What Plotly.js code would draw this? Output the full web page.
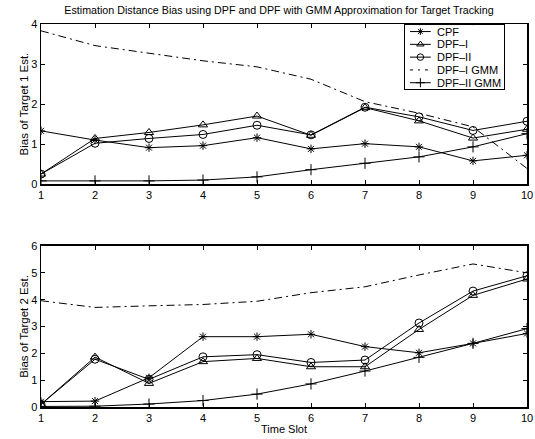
<!DOCTYPE html>
<html><head><meta charset="utf-8">
<script src="https://cdn.plot.ly/plotly-3.0.1.min.js"></script>
<style>html,body{margin:0;padding:0;background:#fff}#c{width:535px;height:439px}</style>
</head><body><div id="c"></div>
<script>
const timeSlots = [1,2,3,4,5,6,7,8,9,10];
const seriesNames = ['CPF','DPF\u2013I','DPF\u2013II','DPF\u2013I GMM','DPF\u2013II GMM'];
// Target 1
const t1_cpf    = [1.33,1.10,0.91,0.96,1.16,0.88,1.01,0.93,0.58,0.72];
const t1_dpf1   = [0.25,1.14,1.29,1.48,1.70,1.22,1.91,1.58,1.15,1.37];
const t1_dpf2   = [0.25,1.02,1.14,1.24,1.47,1.23,1.92,1.68,1.34,1.57];
const t1_dpf1g  = [3.83,3.46,3.27,3.08,2.93,2.62,2.06,1.77,1.43,0.39];
const t1_dpf2g  = [0.08,0.08,0.08,0.10,0.18,0.36,0.52,0.68,0.93,1.26];
// Target 2
const t2_cpf    = [0.20,0.22,1.09,2.62,2.62,2.71,2.25,2.02,2.37,2.74];
const t2_dpf1   = [0.10,1.86,0.88,1.69,1.81,1.50,1.50,2.89,4.16,4.77];
const t2_dpf2   = [0.10,1.78,1.03,1.87,1.95,1.66,1.75,3.13,4.32,4.89];
const t2_dpf1g  = [3.96,3.71,3.77,3.82,3.94,4.26,4.48,4.92,5.33,5.00];
const t2_dpf2g  = [0.02,0.03,0.11,0.24,0.48,0.86,1.34,1.85,2.37,2.92];

const styles = [
  {symbol:'asterisk-open', dash:'solid', size:7},
  {symbol:'triangle-up-open', dash:'solid', size:8},
  {symbol:'circle-open', dash:'solid', size:8},
  {symbol:'circle', dash:'8px,4px,2px,4px', size:0},
  {symbol:'cross-thin-open', dash:'solid', size:8}
];
function mk(x, y, i, ax, dashOverride){
  const s = styles[i];
  return {x: x, y: y, name: seriesNames[i], xaxis: ax[0], yaxis: ax[1],
    type:'scatter', mode: s.size ? 'lines+markers' : 'lines', showlegend: false,
    line:{color:'#000', width:1, dash: dashOverride || s.dash},
    marker:{symbol:s.symbol, size:s.size, color:'#000', line:{color:'#000', width:1}}};
}
const topSeries = [t1_cpf,t1_dpf1,t1_dpf2,t1_dpf1g,t1_dpf2g];
const botSeries = [t2_cpf,t2_dpf1,t2_dpf2,t2_dpf1g,t2_dpf2g];
const data = [];
topSeries.forEach((y,i)=>data.push(mk(timeSlots,y,i,['x','y'])));
botSeries.forEach((y,i)=>data.push(mk(timeSlots,y,i,['x2','y2'])));

// legend (drawn in its own small axes box)
const annotations = [];
seriesNames.forEach((nm,i)=>{
  const row = seriesNames.length - 0.5 - i;
  const s = styles[i];
  const tr = mk([0.05,0.26],[row,row],i,['x3','y3'], i===3 ? '3px,5px,2px,5px' : null);
  tr.mode = 'lines';
  data.push(tr);
  if (s.size) {
    data.push({x:[0.155], y:[row], xaxis:'x3', yaxis:'y3', type:'scatter', mode:'markers', showlegend:false,
      marker:{symbol:s.symbol, size:s.size - 1.5, color:'#000', line:{color:'#000', width:1}}});
  }
  annotations.push({text:nm, xref:'x3', yref:'y3', x:0.3, y:row, xanchor:'left', yanchor:'middle',
    showarrow:false, font:{family:'Liberation Sans, Arial, sans-serif', size:11, color:'#000'}});
});

const fam = 'Liberation Sans, Arial, sans-serif';
const fnt = {family:fam, size:11, color:'#000'};
const axBase = {showline:true, linecolor:'#000', linewidth:1.5, mirror:'ticks', ticks:'inside',
  ticklen:4, tickcolor:'#000', showgrid:false, zeroline:false, tickfont:fnt};
const layout = {
  width:535, height:439, paper_bgcolor:'#fff', plot_bgcolor:'#fff',
  margin:{l:41, r:8, t:24, b:32},
  font: fnt, showlegend:false,
  title:{text:'Estimation Distance Bias using DPF and DPF with GMM Approximation for Target Tracking',
    font:{family:fam, size:10.7, color:'#000'}, x:0.5215, xanchor:'center', y:0.985, yanchor:'top'},
  xaxis: Object.assign({}, axBase, {domain:[0,1], range:[1,10], tickvals:timeSlots, anchor:'y'}),
  yaxis: Object.assign({}, axBase, {domain:[0.582,1], range:[0,4], tickvals:[0,1,2,3,4], anchor:'x',
    title:{text:'Bias of Target 1 Est.', font:{family:fam, size:11.5, color:'#000'}, standoff:0}}),
  xaxis2: Object.assign({}, axBase, {domain:[0,1], range:[1,10], tickvals:timeSlots, anchor:'y2',
    title:{text:'Time Slot', font:{family:fam, size:11, color:'#000'}, standoff:2}}),
  yaxis2: Object.assign({}, axBase, {domain:[0,0.4204], range:[0,6], tickvals:[0,1,2,3,4,5,6], anchor:'x2',
    title:{text:'Bias of Target 2 Est.', font:{family:fam, size:11.5, color:'#000'}, standoff:0}}),
  xaxis3: {domain:[0.749,0.953], range:[0,1], anchor:'y3', showline:true, linecolor:'#000', linewidth:1.3,
    mirror:true, ticks:'', showticklabels:false, showgrid:false, zeroline:false, fixedrange:true},
  yaxis3: {domain:[0.830,0.997], range:[0,5], anchor:'x3', showline:true, linecolor:'#000', linewidth:1.3,
    mirror:true, ticks:'', showticklabels:false, showgrid:false, zeroline:false, fixedrange:true},
  annotations: annotations
};
Plotly.newPlot('c', data, layout, {displayModeBar:false, staticPlot:true});
</script></body></html>
